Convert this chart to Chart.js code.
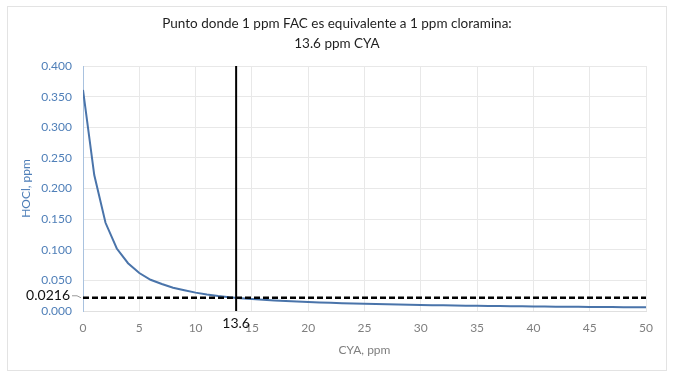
<!DOCTYPE html>
<html>
<head>
<meta charset="utf-8">
<script src="https://cdn.jsdelivr.net/npm/chart.js@4.4.0/dist/chart.umd.min.js"></script>
<style>
  html, body { margin: 0; padding: 0; background: #fff; }
  #wrap { position: relative; width: 675px; height: 388px; }
</style>
</head>
<body>
<div id="wrap"><canvas id="chart" width="675" height="388"></canvas></div>
<script>
// CYA, ppm (x) and HOCl, ppm (y)
var cya = [0, 1, 2, 3, 4, 5, 6, 7, 8, 9, 10, 11, 12, 13, 14, 15, 16, 17, 18, 19, 20,
           21, 22, 23, 24, 25, 26, 27, 28, 29, 30, 31, 32, 33, 34, 35, 36, 37, 38, 39, 40,
           41, 42, 43, 44, 45, 46, 47, 48, 49, 50];
var hocl = [0.361, 0.222, 0.144, 0.102, 0.078, 0.062, 0.051, 0.044, 0.038, 0.034, 0.030,
            0.027, 0.0245, 0.0225, 0.021, 0.0195, 0.0183, 0.0172, 0.0163, 0.0154, 0.0146,
            0.0139, 0.0133, 0.0127, 0.0122, 0.0117, 0.0113, 0.0109, 0.0105, 0.0101, 0.0098,
            0.0095, 0.0092, 0.0089, 0.0087, 0.0084, 0.0082, 0.0080, 0.0078, 0.0076, 0.0074,
            0.0072, 0.0071, 0.0069, 0.0068, 0.0066, 0.0065, 0.0064, 0.0062, 0.0061, 0.0060];

// marker lines
var crossCya = 13.6;
var crossHocl = 0.0216;

var titleLines = ['Punto donde 1 ppm FAC es equivalente a 1 ppm cloramina:', '13.6 ppm CYA'];
var xTitle = 'CYA, ppm';
var yTitle = 'HOCl, ppm';

var FONT = 'Lato, "Liberation Sans", sans-serif';

var curve = cya.map(function (v, i) { return { x: v, y: hocl[i] }; });

// border, title and the two annotation labels
var decorPlugin = {
    id: 'decor',
    beforeDraw: function (chart) {
        var ctx = chart.ctx;
        ctx.save();
        ctx.fillStyle = '#fff';
        ctx.fillRect(0, 0, chart.width, chart.height);
        ctx.strokeStyle = '#e3e3e3';
        ctx.lineWidth = 1;
        ctx.strokeRect(7.5, 6.5, 659, 364);
        ctx.restore();
    },
    afterDraw: function (chart) {
        var ctx = chart.ctx;
        var xs = chart.scales.x, ys = chart.scales.y;
        ctx.save();
        ctx.fillStyle = '#1f1f1f';
        ctx.font = '13.5px ' + FONT;
        ctx.textAlign = 'center';
        ctx.textBaseline = 'middle';
        ctx.fillText(titleLines[0], 337, 24);
        ctx.fillText(titleLines[1], 337, 44);

        // 13.6 under the axis
        ctx.fillStyle = '#111';
        ctx.font = '14px ' + FONT;
        ctx.fillText(String(crossCya), xs.getPixelForValue(crossCya), 323);

        // 0.0216 left of the axis
        var py = ys.getPixelForValue(crossHocl);
        ctx.textAlign = 'right';
        ctx.fillText(String(crossHocl), 70, py - 2);
        ctx.strokeStyle = '#9a9a9a';
        ctx.lineWidth = 1;
        ctx.beginPath();
        ctx.moveTo(72, py - 2);
        ctx.lineTo(77, py - 2);
        ctx.lineTo(81, py);
        ctx.stroke();
        ctx.restore();
    }
};

var chartConfig = {
    type: 'line',
    data: {
        datasets: [{
            label: 'HOCl',
            data: curve,
            borderColor: '#4a74aa',
            borderWidth: 2,
            pointRadius: 0,
            tension: 0,
            fill: false,
            order: 3
        }, {
            label: 'CYA 13.6',
            data: [{ x: crossCya, y: 0 }, { x: crossCya, y: 0.4 }],
            borderColor: '#000',
            borderWidth: 2,
            pointRadius: 0,
            fill: false,
            order: 1
        }, {
            label: 'HOCl 0.0216',
            data: [{ x: 0, y: crossHocl }, { x: 50, y: crossHocl }],
            borderColor: '#000',
            borderWidth: 2.5,
            borderDash: [6, 3],
            pointRadius: 0,
            fill: false,
            order: 2
        }]
    },
    options: {
        responsive: false,
        animation: false,
        layout: { padding: { top: 66, right: 29, bottom: 0, left: 0 } },
        plugins: {
            legend: { display: false },
            title: { display: false },
            tooltip: { enabled: false }
        },
        scales: {
            x: {
                type: 'linear',
                min: 0,
                max: 50,
                afterFit: function (scale) { scale.height = 77; },
                ticks: {
                    stepSize: 5,
                    color: '#7f7f7f',
                    font: { family: FONT, size: 12 },
                    padding: 10
                },
                grid: { color: '#e8e8e8', drawTicks: false },
                border: { color: '#e0e0e0' },
                title: {
                    display: true,
                    text: xTitle,
                    color: '#7f7f7f',
                    font: { family: FONT, size: 12 },
                    padding: { top: 0, bottom: 31 }
                }
            },
            y: {
                min: 0,
                max: 0.4,
                afterFit: function (scale) { scale.width = 83; },
                ticks: {
                    stepSize: 0.05,
                    color: '#4f7fb8',
                    font: { family: FONT, size: 12 },
                    padding: 11,
                    callback: function (value) { return value.toFixed(3); }
                },
                grid: { color: '#e8e8e8', drawTicks: false },
                border: { color: '#a9c2df' },
                title: {
                    display: true,
                    text: yTitle,
                    color: '#4f7fb8',
                    font: { family: FONT, size: 12 },
                    padding: { top: 19, bottom: 0 }
                }
            }
        }
    },
    plugins: [decorPlugin]
};

new Chart(document.getElementById('chart').getContext('2d'), chartConfig);
</script>
</body>
</html>
